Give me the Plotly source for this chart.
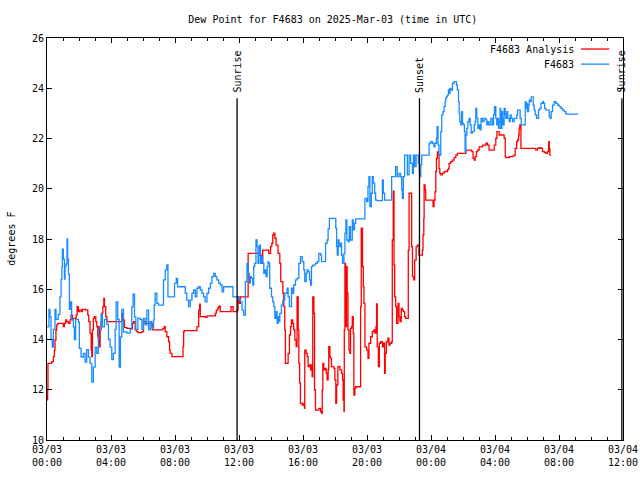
import pandas as pd
import plotly.graph_objects as go

# ---- data (hours after 2025-03-03 00:00 UTC, dew point in degrees F) ----
station_hours = [0.00,0.12,0.19,0.25,0.33,0.40,0.50,0.56,0.61,0.70,0.81,0.88,0.93,0.96,1.02,1.09,1.13,1.19,1.25,1.29,1.34,1.40,1.48,1.54,1.65,1.71,1.79,1.96,2.02,2.13,2.27,2.38,2.48,2.59,2.69,2.80,2.90,3.01,3.11,3.21,3.38,3.46,3.59,3.74,3.84,3.94,4.05,4.15,4.26,4.32,4.42,4.51,4.59,4.68,4.78,4.99,5.20,5.30,5.38,5.47,5.55,5.68,5.82,5.93,6.03,6.14,6.24,6.35,6.45,6.55,6.66,6.70,6.76,6.87,6.97,7.24,7.28,7.39,7.49,7.56,7.91,7.97,8.08,8.16,8.54,8.64,8.74,8.85,8.95,9.06,9.16,9.27,9.37,9.47,9.58,9.69,9.79,9.89,10.00,10.10,10.21,10.31,10.42,10.52,10.62,10.73,10.83,10.94,11.04,11.56,11.62,11.87,11.98,12.09,12.19,12.29,12.40,12.50,12.57,12.65,12.71,12.77,12.86,12.92,12.98,13.06,13.13,13.19,13.23,13.28,13.34,13.40,13.48,13.55,13.61,13.69,13.76,13.82,13.86,13.92,14.03,14.11,14.17,14.24,14.32,14.38,14.44,14.49,14.55,14.65,14.74,14.86,15.01,15.07,15.15,15.28,15.36,15.42,15.53,15.63,15.74,15.84,15.95,16.05,16.11,16.20,16.26,16.32,16.41,16.47,16.53,16.61,16.78,16.89,16.99,17.10,17.16,17.37,17.41,17.51,17.57,17.65,17.97,18.05,18.10,18.14,18.20,18.26,18.35,18.41,18.47,18.56,18.62,18.68,18.74,18.83,18.89,18.97,19.08,19.14,19.22,19.29,19.81,19.87,19.98,20.06,20.12,20.18,20.27,20.33,20.39,20.48,20.54,20.64,20.85,20.96,21.02,21.10,21.48,21.54,21.69,21.79,21.89,22.00,22.10,22.17,22.21,22.27,22.35,22.48,22.52,22.63,22.73,22.84,22.90,22.98,23.07,23.15,23.21,23.27,23.31,23.36,23.42,23.84,23.88,23.98,24.09,24.19,24.25,24.34,24.38,24.44,24.50,24.61,24.67,24.75,24.82,24.88,24.92,24.96,25.02,25.09,25.13,25.19,25.25,25.34,25.44,25.55,25.59,25.65,25.72,25.76,25.80,25.86,25.92,25.97,26.03,26.09,26.13,26.18,26.24,26.30,26.38,26.45,26.51,26.59,26.70,26.76,26.80,26.86,26.93,27.01,27.07,27.13,27.22,27.32,27.43,27.49,27.55,27.63,27.74,27.84,27.91,27.97,28.05,28.11,28.16,28.22,28.26,28.32,28.36,28.43,28.47,28.51,28.57,28.64,28.68,28.74,28.80,28.89,28.95,29.01,29.10,29.20,29.36,29.41,29.51,29.57,29.64,29.82,29.89,29.93,29.97,30.03,30.10,30.14,30.20,30.26,30.35,30.39,30.45,30.51,30.60,30.66,30.72,30.80,30.87,30.97,31.03,31.10,31.18,31.28,31.39,31.45,31.51,31.60,31.70,31.81,31.91,32.02,32.12,32.22,32.33,32.43,33.20]
station_dewpoint = [14.5,15.2,14.9,14.0,13.7,14.4,15.2,14.8,14.8,15.0,15.7,16.4,16.9,17.6,17.2,16.4,16.9,17.0,18.0,17.2,16.6,15.2,15.5,14.8,14.5,14.0,14.8,14.7,13.65,13.3,13.45,13.1,13.6,13.3,13.05,12.3,12.9,13.7,13.45,14.4,15.0,14.5,14.8,14.6,14.0,13.7,13.2,13.45,14.4,15.5,14.8,12.9,14.1,15.2,14.3,14.25,14.4,15.3,15.8,14.9,14.4,14.85,14.8,14.4,14.84,14.58,15.17,14.38,14.71,14.45,14.78,15.37,15.84,15.44,15.37,15.37,16.37,16.77,16.97,15.70,15.70,16.24,16.43,16.10,16.10,15.84,15.57,15.31,15.57,15.84,15.97,15.70,16.04,16.10,15.97,15.84,15.70,15.50,15.84,16.04,16.24,16.50,16.63,16.50,16.37,16.24,16.17,15.90,16.10,16.10,15.70,15.70,15.60,15.50,15.17,14.97,16.30,17.03,16.63,16.24,16.50,16.43,16.17,16.90,17.03,17.96,17.70,17.03,17.36,17.76,17.03,17.30,17.03,16.63,16.77,16.50,16.90,17.10,17.03,16.04,15.70,15.50,15.31,14.84,15.11,14.64,14.91,14.71,15.04,15.37,15.57,15.84,16.04,15.70,15.31,16.04,15.84,16.17,16.37,16.43,17.03,17.30,17.10,16.77,16.30,16.63,16.77,16.70,16.37,16.17,16.90,16.96,17.03,17.10,17.43,17.36,17.10,17.10,17.83,17.96,18.40,18.82,18.82,18.43,17.70,17.36,17.96,17.70,17.83,17.36,17.03,17.43,18.23,18.76,17.96,17.89,18.49,17.96,18.76,18.36,18.62,18.80,18.80,19.62,19.49,20.08,20.48,19.29,19.82,20.48,20.22,19.82,19.55,19.53,19.53,20.35,19.82,19.55,19.55,20.48,20.48,20.88,20.48,20.61,20.48,19.95,19.62,20.48,21.34,21.34,20.55,21.34,21.01,20.61,21.34,20.88,21.34,21.34,21.01,20.68,20.48,20.95,21.34,21.34,21.80,21.87,21.80,21.67,21.81,22.01,22.47,21.74,21.34,22.27,22.94,23.07,23.27,23.47,23.60,23.66,23.73,23.93,23.80,23.99,23.93,24.20,24.26,24.26,24.13,23.93,23.47,23.00,22.67,22.54,23.07,22.60,22.54,22.27,21.47,22.14,22.40,22.67,22.80,22.54,22.21,22.27,22.54,22.67,23.20,22.80,22.40,22.54,22.34,22.80,22.67,22.80,22.74,22.54,22.67,22.54,22.80,22.54,22.94,23.27,22.80,22.54,22.80,22.40,22.67,23.20,22.40,23.07,22.80,22.54,23.20,22.94,22.80,23.07,22.80,22.67,22.94,22.80,22.67,22.80,22.94,23.13,23.13,22.80,22.54,22.54,23.47,23.20,23.40,23.07,23.33,23.53,23.47,23.66,23.66,23.33,23.13,22.94,22.80,22.80,23.13,23.20,23.40,23.47,23.40,23.20,23.13,23.13,22.87,22.80,23.07,23.33,23.47,23.40,23.33,23.27,23.20,23.13,23.07,22.97,22.97]

analysis_hours = [0.00,0.04,0.06,0.19,0.29,0.40,0.46,0.50,0.56,0.61,0.67,0.92,1.02,1.09,1.17,1.23,1.34,1.44,1.50,1.59,1.65,1.82,1.88,1.96,2.02,2.13,2.21,2.44,2.55,2.61,2.69,2.76,2.80,2.84,2.90,2.96,3.05,3.11,3.17,3.21,3.26,3.32,3.38,3.42,3.49,3.55,3.59,3.67,3.74,4.63,4.68,4.74,4.84,4.99,5.30,5.34,5.41,5.51,5.61,5.68,5.82,5.93,6.03,6.14,6.55,6.58,7.18,7.24,7.33,7.39,7.49,7.60,7.66,7.70,7.81,8.43,8.50,8.54,8.58,9.33,9.37,9.48,9.54,9.58,9.89,10.00,10.42,10.52,10.58,10.67,10.73,10.79,10.83,11.46,11.50,11.56,11.63,11.77,11.88,11.94,12.00,12.09,12.50,12.57,13.23,13.28,13.40,13.48,13.82,13.86,13.97,14.05,14.11,14.17,14.24,14.32,14.44,14.55,14.61,14.74,14.80,14.86,14.90,15.01,15.07,15.15,15.22,15.28,15.36,15.42,15.49,15.57,15.63,15.70,15.74,15.79,15.84,15.95,16.05,16.09,16.11,16.20,16.26,16.32,16.41,16.47,16.53,16.57,16.61,16.68,16.72,16.78,16.89,16.99,17.10,17.16,17.20,17.24,17.30,17.37,17.45,17.51,17.57,17.61,17.68,17.72,17.78,17.93,17.99,18.05,18.10,18.18,18.31,18.41,18.47,18.51,18.56,18.58,18.62,18.66,18.70,18.72,18.76,18.81,18.87,18.93,18.97,19.04,19.08,19.14,19.18,19.24,19.29,19.56,19.60,19.64,19.72,19.77,19.81,19.87,19.98,20.06,20.12,20.23,20.33,20.43,20.50,20.56,20.60,20.64,20.71,20.77,20.85,20.96,21.02,21.10,21.14,21.21,21.31,21.37,21.44,21.54,21.58,21.64,21.69,21.73,21.79,21.85,21.94,22.00,22.06,22.14,22.21,22.27,22.35,22.42,22.52,22.58,22.63,22.73,22.79,22.84,22.92,22.98,23.07,23.15,23.25,23.36,23.46,23.50,23.55,23.57,23.63,23.67,24.09,24.13,24.19,24.25,24.30,24.34,24.40,24.46,24.50,24.55,24.61,24.71,24.82,25.02,25.09,25.13,25.23,25.34,25.44,25.55,25.65,26.13,26.18,26.49,26.55,26.63,26.70,26.76,26.84,26.91,27.01,27.22,27.43,27.53,27.63,27.84,27.95,28.05,28.12,28.26,28.47,28.57,28.64,28.68,28.89,29.10,29.20,29.26,29.35,29.41,29.47,29.51,29.55,29.62,30.51,30.55,30.66,30.76,30.87,30.97,31.08,31.18,31.28,31.35,31.39,31.43,31.47]
analysis_dewpoint = [11.6,12.0,13.05,13.05,13.12,13.32,13.58,13.98,14.38,14.58,14.64,14.64,14.51,14.64,14.78,14.71,14.64,14.78,14.97,14.78,14.84,14.97,15.31,15.11,15.17,15.11,15.20,15.17,14.97,14.71,14.25,13.58,13.32,14.38,14.84,14.91,14.71,14.51,14.11,14.51,13.71,14.38,14.71,15.04,15.31,15.64,15.31,14.91,14.71,14.71,15.04,14.78,14.48,14.44,14.44,14.64,14.71,14.38,14.31,14.27,14.27,14.31,14.71,14.64,14.64,14.38,14.38,14.44,14.51,14.31,14.11,13.91,13.58,13.45,13.32,13.32,13.71,14.31,14.35,14.35,14.51,15.17,15.41,14.91,14.88,14.94,14.94,15.04,15.17,15.24,15.31,15.33,15.11,15.11,15.31,15.31,15.11,15.11,15.17,15.70,15.44,15.70,15.70,17.43,17.43,17.36,17.03,17.56,17.56,17.43,17.70,17.83,18.16,18.23,18.03,17.76,17.43,17.03,16.30,15.84,15.31,14.38,13.05,13.05,13.45,14.18,14.51,14.78,14.64,14.38,13.98,13.72,15.70,14.38,13.05,12.26,11.46,11.39,11.46,11.26,13.58,13.45,13.32,12.92,12.99,12.79,12.99,12.52,15.70,15.04,11.99,11.19,11.19,11.26,11.13,11.06,11.99,13.05,12.79,12.85,12.65,12.39,12.79,13.72,13.32,13.25,12.92,12.85,12.39,11.46,12.19,12.92,12.79,12.65,12.39,11.59,11.13,14.38,17.03,15.44,14.51,16.90,15.84,14.38,13.58,13.45,14.44,14.51,14.91,14.25,11.79,12.06,12.12,12.12,15.31,18.43,16.90,16.10,15.44,13.71,13.58,13.25,13.85,14.11,14.31,14.38,14.25,14.51,15.42,13.71,12.92,13.85,13.91,13.71,13.85,12.65,13.45,13.91,14.05,13.78,13.85,13.91,17.96,19.90,16.96,15.70,15.31,14.64,15.44,14.91,14.71,15.24,15.17,15.11,14.91,14.84,14.84,17.56,19.82,19.82,17.70,16.50,16.37,17.16,17.70,17.76,17.36,17.36,17.56,18.16,18.82,20.15,19.95,19.55,19.55,19.29,19.55,19.88,20.68,21.21,21.47,21.34,20.81,20.61,20.55,20.61,20.68,20.75,20.81,21.01,21.08,21.14,21.24,21.34,21.41,21.41,21.54,21.54,21.48,21.21,21.14,21.28,21.48,21.54,21.67,21.74,21.81,21.74,21.54,21.54,21.74,22.01,22.27,22.14,22.14,22.01,21.28,21.24,21.28,21.30,21.34,21.61,21.87,21.94,22.14,22.40,22.54,21.61,21.61,21.54,21.61,21.64,21.61,21.48,21.45,21.41,21.48,21.87,21.61,21.34,21.32]

event_labels = ["Sunrise", "Sunset", "Sunrise"]
event_hours = [11.88, 23.28, 35.93]

series_names = ["F4683 Analysis", "F4683"]
series_colors = ["#ff0000", "#1a8cff"]

title_text = "Dew Point for F4683 on 2025-Mar-03 (time in UTC)"
y_title = "degrees F"
y_ticks = [10, 12, 14, 16, 18, 20, 22, 24, 26]

# ---- figure ----
base = pd.Timestamp("2025-03-03 00:00")
to_time = lambda hrs: [base + pd.Timedelta(hours=h) for h in hrs]

FONT = "DejaVu Sans Mono"
fig = go.Figure()
fig.add_trace(go.Scatter(x=to_time(analysis_hours), y=analysis_dewpoint, mode="lines",
                         line=dict(color=series_colors[0], width=1.3, shape="hv"),
                         name=series_names[0], showlegend=False))
fig.add_trace(go.Scatter(x=to_time(station_hours), y=station_dewpoint, mode="lines",
                         line=dict(color=series_colors[1], width=1.3, shape="hv"),
                         name=series_names[1], showlegend=False))

for lab, h in zip(event_labels, to_time(event_hours)):
    fig.add_shape(type="line", xref="x", yref="y", x0=h, x1=h, y0=10, y1=23.6,
                  line=dict(color="black", width=1.3))
    fig.add_annotation(x=h, y=23.75, xref="x", yref="y", text=lab, textangle=-90,
                       showarrow=False, xanchor="center", yanchor="bottom",
                       font=dict(family=FONT, size=10, color="black"))

# gnuplot-style legend: text then line sample
leg_y = [0.9726, 0.935]
for name, col, yy in zip(series_names, series_colors, leg_y):
    fig.add_annotation(x=0.918, y=yy, xref="paper", yref="paper", text=name,
                       showarrow=False, xanchor="right", yanchor="middle",
                       font=dict(family=FONT, size=10, color="black"))
    fig.add_shape(type="line", xref="paper", yref="paper", x0=0.927, x1=0.976,
                  y0=yy, y1=yy, line=dict(color=col, width=1.3))

# y-axis title as rotated text
fig.add_annotation(x=-0.063, y=0.5, xref="paper", yref="paper", text=y_title,
                   textangle=-90, showarrow=False, xanchor="center", yanchor="middle",
                   font=dict(family=FONT, size=10, color="black"))

fig.update_layout(
    width=640, height=480,
    margin=dict(l=47, r=17, t=38, b=40, autoexpand=False),
    paper_bgcolor="white", plot_bgcolor="white",
    font=dict(family=FONT, size=10, color="black"),
    title=dict(text=title_text, x=0.52, xanchor="center", y=0.96, yanchor="middle",
               font=dict(family=FONT, size=10, color="black")),
    showlegend=False,
)
fig.update_xaxes(
    type="date", range=[base, base + pd.Timedelta(hours=36)], automargin=False,
    dtick=4 * 3600 * 1000, tick0=base, tickformat="%m/%d<br>%H:%M",
    ticks="inside", ticklen=5, tickcolor="black", mirror="allticks",
    showline=True, linecolor="black", linewidth=1, showgrid=False, zeroline=False,
    minor=dict(dtick=3600 * 1000, ticks="inside", ticklen=3, tickcolor="black", showgrid=False),
    tickfont=dict(family=FONT, size=10, color="black"),
)
fig.update_yaxes(
    range=[10, 26], tickvals=y_ticks, ticktext=[str(v) for v in y_ticks], automargin=False,
    ticks="inside", ticklen=5, tickcolor="black", mirror="allticks",
    showline=True, linecolor="black", linewidth=1, showgrid=False, zeroline=False,
    tickfont=dict(family=FONT, size=10, color="black"),
)

fig.write_html("out.html", config={"displayModeBar": False},
               post_script="document.body.style.margin='0px';document.body.style.overflow='hidden';")
